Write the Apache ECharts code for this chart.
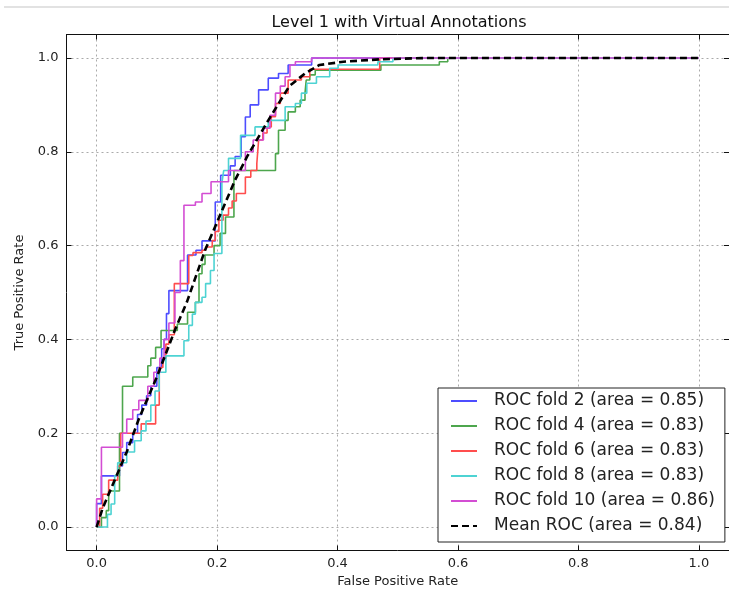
<!DOCTYPE html>
<html>
<head>
<meta charset="utf-8">
<script src="https://cdn.jsdelivr.net/npm/echarts@6/dist/echarts.min.js"></script>
<style>
  html, body { margin: 0; padding: 0; background: #fff; }
  #main { width: 729px; height: 599px; }
</style>
</head>
<body>
<div id="main"></div>
<script>
// [fpr, tpr] pairs; tpr jumps to the given value at the given fpr
var fold2 = [[0,0],[0,0.05],[0.008,0.109],[0.038,0.13],[0.043,0.159],[0.05,0.18],[0.06,0.2],[0.068,0.24],[0.075,0.26],[0.083,0.28],[0.09,0.3],[0.1,0.34],[0.108,0.38],[0.112,0.4],[0.116,0.455],[0.12,0.504],[0.151,0.58],[0.165,0.59],[0.175,0.61],[0.197,0.693],[0.206,0.75],[0.222,0.77],[0.23,0.79],[0.24,0.832],[0.247,0.874],[0.255,0.9],[0.269,0.932],[0.285,0.957],[0.302,0.967],[0.318,0.985],[0.357,1],[1,1]];
var fold4 = [[0,0],[0.008,0.02],[0.016,0.035],[0.02,0.077],[0.038,0.2],[0.043,0.3],[0.06,0.32],[0.085,0.344],[0.09,0.36],[0.098,0.383],[0.107,0.419],[0.134,0.433],[0.151,0.458],[0.164,0.479],[0.17,0.54],[0.175,0.56],[0.18,0.58],[0.195,0.6],[0.205,0.626],[0.214,0.661],[0.228,0.76],[0.297,0.796],[0.302,0.846],[0.313,0.867],[0.318,0.885],[0.33,0.896],[0.338,0.91],[0.346,0.925],[0.348,0.953],[0.354,0.964],[0.363,0.974],[0.472,0.985],[0.569,0.992],[0.583,1],[1,1]];
var fold6 = [[0,0],[0.005,0.04],[0.01,0.07],[0.02,0.1],[0.035,0.13],[0.04,0.2],[0.074,0.22],[0.098,0.26],[0.104,0.34],[0.11,0.36],[0.115,0.39],[0.12,0.41],[0.129,0.519],[0.153,0.579],[0.16,0.585],[0.175,0.59],[0.181,0.597],[0.192,0.611],[0.197,0.63],[0.203,0.654],[0.21,0.665],[0.219,0.68],[0.225,0.695],[0.232,0.711],[0.247,0.746],[0.256,0.76],[0.266,0.775],[0.269,0.825],[0.276,0.84],[0.283,0.853],[0.29,0.875],[0.297,0.903],[0.305,0.925],[0.318,0.953],[0.34,0.96],[0.354,0.976],[0.47,1],[1,1]];
var fold8 = [[0,0],[0.018,0.027],[0.024,0.049],[0.03,0.11],[0.035,0.137],[0.05,0.16],[0.063,0.184],[0.074,0.205],[0.082,0.226],[0.09,0.26],[0.097,0.29],[0.104,0.33],[0.115,0.365],[0.145,0.397],[0.153,0.43],[0.159,0.454],[0.164,0.479],[0.175,0.49],[0.181,0.519],[0.189,0.547],[0.195,0.583],[0.208,0.733],[0.211,0.76],[0.219,0.786],[0.239,0.835],[0.263,0.853],[0.285,0.867],[0.313,0.896],[0.33,0.903],[0.34,0.925],[0.349,0.946],[0.365,0.96],[0.387,0.978],[0.401,0.985],[0.467,0.992],[0.492,1],[1,1]];
var fold10 = [[0,0],[0,0.06],[0.008,0.17],[0.043,0.2],[0.05,0.23],[0.06,0.25],[0.07,0.27],[0.085,0.3],[0.095,0.33],[0.105,0.36],[0.112,0.4],[0.12,0.435],[0.13,0.5],[0.139,0.568],[0.145,0.686],[0.164,0.693],[0.175,0.711],[0.19,0.736],[0.219,0.76],[0.247,0.8],[0.26,0.825],[0.277,0.85],[0.288,0.878],[0.297,0.925],[0.305,0.94],[0.313,0.96],[0.321,0.985],[0.33,0.992],[0.357,1],[1,1]];
var meanRoc = [[0,0],[0.01,0.04],[0.03,0.1],[0.05,0.16],[0.07,0.23],[0.1,0.32],[0.13,0.42],[0.15,0.48],[0.18,0.59],[0.2,0.65],[0.23,0.74],[0.25,0.79],[0.285,0.867],[0.32,0.94],[0.346,0.967],[0.37,0.985],[0.41,0.992],[0.47,0.997],[0.55,1],[1,1]];

var seriesNames = ["ROC fold 2 (area = 0.85)", "ROC fold 4 (area = 0.83)", "ROC fold 6 (area = 0.83)",
  "ROC fold 8 (area = 0.83)", "ROC fold 10 (area = 0.86)", "Mean ROC (area = 0.84)"];
var foldColors = ["#4d4dff", "#4da64d", "#ff4d4d", "#4dd3d3", "#d34dd3"];
var xTicks = [0, 0.2, 0.4, 0.6, 0.8, 1.0];
var yTicks = [0, 0.2, 0.4, 0.6, 0.8, 1.0];

var font = "DejaVu Sans";
var chart = echarts.init(document.getElementById("main"));

var folds = [fold2, fold4, fold6, fold8, fold10];
var series = folds.map(function (d, i) {
  return {
    name: seriesNames[i],
    type: "line",
    step: "end",
    data: d,
    symbol: "none",
    showSymbol: false,
    lineStyle: { color: foldColors[i], width: 1.6 },
    itemStyle: { color: foldColors[i] }
  };
});
series.push({
  name: seriesNames[5],
  type: "line",
  data: meanRoc,
  symbol: "none",
  showSymbol: false,
  z: 5,
  lineStyle: { color: "#000", width: 2.6, type: [7, 4] },
  itemStyle: { color: "#000" }
});

function fmt(v) { return v.toFixed(1); }

var option = {
  backgroundColor: "#fff",
  animation: false,
  title: {
    text: "Level 1 with Virtual Annotations",
    left: 394,
    textAlign: "center",
    top: 10,
    textStyle: { fontFamily: font, fontSize: 16, fontWeight: "normal", color: "#111" }
  },
  graphic: [{
    type: "line",
    shape: { x1: 4, y1: 7, x2: 729, y2: 7 },
    style: { stroke: "#e2e2e2", lineWidth: 2 }
  }],
  grid: { left: 66.5, top: 34.5, width: 667.4, height: 516, containLabel: false },
  legend: {
    orient: "vertical",
    left: 438,
    top: 388,
    padding: [3, 10, 6, 12],
    itemWidth: 26,
    itemHeight: 14,
    itemGap: 5,
    backgroundColor: "#fff",
    borderColor: "#222",
    borderWidth: 1,
    borderRadius: 0,
    itemStyle: { color: "rgba(0,0,0,0)", borderWidth: 0, opacity: 0 },
    textStyle: { fontFamily: font, fontSize: 17, color: "#222", lineHeight: 20, padding: [0, 0, 0, 12] },
    data: seriesNames
  },
  xAxis: [{
    type: "value", min: -0.05, max: 1.05, position: "bottom",
    name: "False Positive Rate", nameLocation: "middle", nameGap: 22,
    nameTextStyle: { fontFamily: font, fontSize: 13, color: "#222" },
    axisLine: { show: true, onZero: false, lineStyle: { color: "#111", width: 1 } },
    axisTick: { show: true, inside: true, length: 5, customValues: xTicks, lineStyle: { color: "#111" } },
    axisLabel: { customValues: xTicks, formatter: fmt, fontFamily: font, fontSize: 13, color: "#222", margin: 7 },
    splitLine: { show: true, lineStyle: { type: [2, 3], color: "#aaa", width: 1 } }
  }, {
    type: "value", min: -0.05, max: 1.05, position: "top",
    axisLine: { show: true, onZero: false, lineStyle: { color: "#111", width: 1 } },
    axisTick: { show: true, inside: true, length: 5, customValues: xTicks, lineStyle: { color: "#111" } },
    axisLabel: { show: false },
    splitLine: { show: false }
  }],
  yAxis: [{
    type: "value", min: -0.05, max: 1.05, position: "left",
    name: "True Positive Rate", nameLocation: "middle", nameGap: 40,
    nameTextStyle: { fontFamily: font, fontSize: 13, color: "#222" },
    axisLine: { show: true, onZero: false, lineStyle: { color: "#111", width: 1 } },
    axisTick: { show: true, inside: true, length: 5, customValues: yTicks, lineStyle: { color: "#111" } },
    axisLabel: { customValues: yTicks, formatter: fmt, fontFamily: font, fontSize: 13, color: "#222", margin: 8 },
    splitLine: { show: true, lineStyle: { type: [2, 3], color: "#aaa", width: 1 } }
  }, {
    type: "value", min: -0.05, max: 1.05, position: "right",
    axisLine: { show: true, onZero: false, lineStyle: { color: "#111", width: 1 } },
    axisTick: { show: true, inside: true, length: 5, customValues: yTicks, lineStyle: { color: "#111" } },
    axisLabel: { show: false },
    splitLine: { show: false }
  }],
  series: series
};

chart.setOption(option);
</script>
</body>
</html>
